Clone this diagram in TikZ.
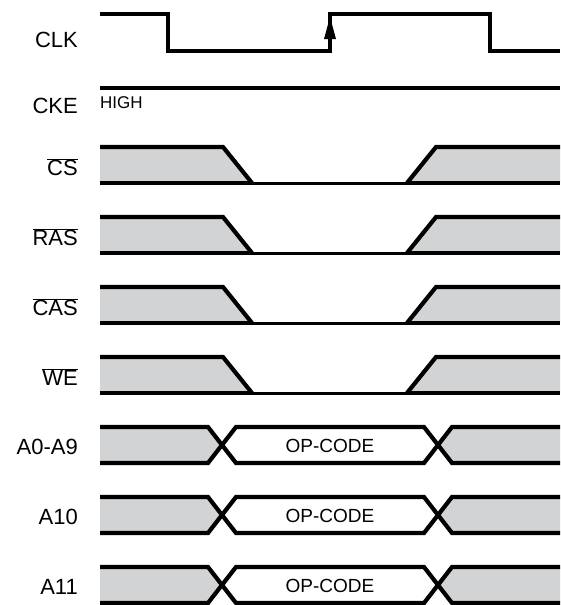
\documentclass[tikz,border=0pt]{standalone}
\usepackage{fontspec}
\setmainfont{Liberation Sans}
\usepackage{tikz}
\usetikzlibrary{arrows}
\definecolor{siggray}{RGB}{209,211,212}

\begin{document}
\begin{tikzpicture}[x=1pt,y=-1pt]
	\tikzstyle{signame}=[anchor=east,inner sep=0pt,font=\fontsize{22}{26}\selectfont]
	\tikzstyle{wave}=[line width=4.2pt,line join=miter]
	\tikzstyle{opcode}=[inner sep=0pt,font=\fontsize{19}{22}\selectfont]
	\useasboundingbox (0,0) rectangle (560,605);
	% clock and clock enable
	\node[signame] (clk) at (78,40) {CLK};
	\draw[wave] (100,14) -- (168,14) -- (168,51) -- (330,51) -- (330,14) -- (490,14) -- (490,51) -- (560,51);
	\fill (324,39) -- (330,17) -- (336,39) -- cycle;
	\node[signame] (cke) at (78,106) {CKE};
	\draw[wave] (100,88) -- (560,88);
	\node[anchor=west,inner sep=0pt,font=\fontsize{17}{20}\selectfont] (high) at (100,103) {HIGH};
	% command lines
	\foreach \t/\name/\txt in {147/cs/CS,217/ras/RAS,287/cas/CAS,357/we/WE} {
		\fill[siggray] (100,\t) -- (223,\t) -- (252,\t+36) -- (100,\t+36) -- cycle;
		\fill[siggray] (407,\t+36) -- (436,\t) -- (560,\t) -- (560,\t+36) -- cycle;
		\draw[wave] (100,\t) -- (223,\t) -- (252,\t+36);
		\draw[wave] (407,\t+36) -- (436,\t) -- (560,\t);
		\draw[line width=4.5pt] (100,\t+36) -- (252,\t+36);
		\draw[line width=4.5pt] (407,\t+36) -- (560,\t+36);
		\draw[line width=3pt] (252,\t+36) -- (407,\t+36);
		\node[signame] (\name) at (78,\t+20) {$\overline{\mbox{\txt}}$};
	}
	% address lines
	\foreach \t/\name/\txt in {427/a/A0-A9,497/aten/A10,567/aeleven/A11} {
		\fill[siggray] (100,\t) -- (208,\t) -- (222,\t+18) -- (208,\t+36) -- (100,\t+36) -- cycle;
		\fill[siggray] (560,\t) -- (452,\t) -- (438,\t+18) -- (452,\t+36) -- (560,\t+36) -- cycle;
		\draw[wave] (100,\t) -- (208,\t) -- (236,\t+36) -- (424,\t+36) -- (452,\t) -- (560,\t);
		\draw[wave] (100,\t+36) -- (208,\t+36) -- (236,\t) -- (424,\t) -- (452,\t+36) -- (560,\t+36);
		\node[opcode] (\name op) at (330,\t+19) {OP-CODE};
		\node[signame] (\name) at (78,\t+20) {\txt};
	}
\end{tikzpicture}
\end{document}
